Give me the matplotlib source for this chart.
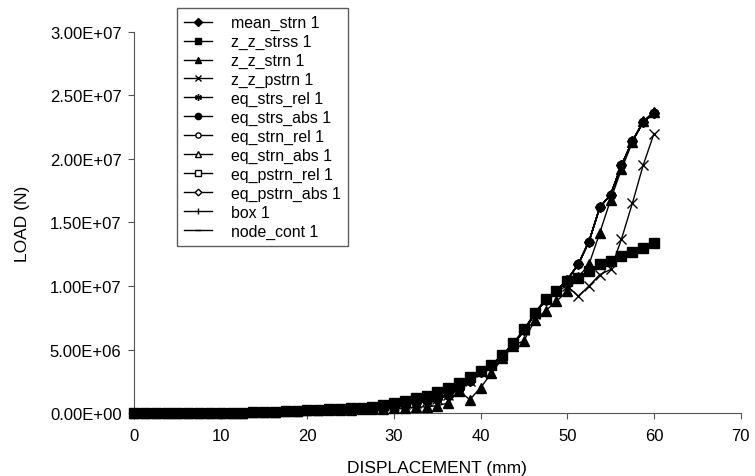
import matplotlib
matplotlib.use('Agg')
import matplotlib.pyplot as plt
from matplotlib.ticker import FuncFormatter

plt.rcParams['font.family'] = ['Liberation Sans', 'DejaVu Sans']

# displacement (mm)
disp = [0, 1.25, 2.5, 3.75, 5, 6.25, 7.5, 8.75, 10, 11.25, 12.5, 13.75, 15, 16.25,
        17.5, 18.75, 20, 21.25, 22.5, 23.75, 25, 26.25, 27.5, 28.75, 30, 31.25,
        32.5, 33.75, 35, 36.25, 37.5, 38.75, 40, 41.25, 42.5, 43.75, 45, 46.25,
        47.5, 48.75, 50, 51.25, 52.5, 53.75, 55, 56.25, 57.5, 58.75, 60]

# most criteria follow this curve
load_main = [0, 0, 0, 0, 0, 0, 0, 5e3, 1e4, 2e4, 4e4, 6e4, 8e4, 1e5,
             1.3e5, 1.6e5, 2e5, 2.4e5, 2.8e5, 3.2e5, 3.7e5, 4.2e5, 4.8e5, 5.4e5, 6.2e5, 7.1e5,
             8.1e5, 9.2e5, 1.07e6, 1.4e6, 1.9e6, 2.5e6, 3.2e6, 3.75e6, 4.5e6, 5.4e6, 6.5e6, 7.8e6,
             8.9e6, 9.6e6, 1.05e7, 1.17e7, 1.35e7, 1.62e7, 1.72e7, 1.95e7, 2.14e7, 2.29e7, 2.36e7]

load_zz_strss = [0, 0, 0, 0, 0, 0, 0, 5e3, 1e4, 2e4, 4e4, 6e4, 8e4, 1e5,
                 1.3e5, 1.6e5, 2e5, 2.4e5, 2.8e5, 3.2e5, 3.7e5, 4.2e5, 4.8e5, 6.5e5, 8e5, 9.7e5,
                 1.17e6, 1.37e6, 1.65e6, 1.95e6, 2.35e6, 2.8e6, 3.3e6, 3.8e6, 4.6e6, 5.5e6, 6.6e6, 7.9e6,
                 9.0e6, 9.6e6, 1.04e7, 1.06e7, 1.12e7, 1.17e7, 1.2e7, 1.24e7, 1.27e7, 1.3e7, 1.34e7]

load_zz_strn = [0, 0, 0, 0, 0, 0, 0, 5e3, 1e4, 2e4, 4e4, 6e4, 8e4, 1e5,
                1.3e5, 1.6e5, 2e5, 2.2e5, 2.4e5, 2.5e5, 2.6e5, 2.8e5, 3.1e5, 3.4e5, 3.7e5, 4.1e5,
                4.5e5, 5e5, 5.8e5, 7.9e5, 1.76e6, 1.05e6, 2.0e6, 3.15e6, 4.3e6, 5.3e6, 5.7e6, 7.3e6,
                8.05e6, 8.8e6, 9.6e6, 1.07e7, 1.17e7, 1.42e7, 1.68e7, 1.92e7, 2.13e7, 2.3e7, 2.37e7]

load_zz_pstrn = [0, 0, 0, 0, 0, 0, 0, 5e3, 1e4, 2e4, 4e4, 6e4, 8e4, 1e5,
                 1.3e5, 1.6e5, 2e5, 2.4e5, 2.8e5, 3.2e5, 3.7e5, 4.2e5, 4.8e5, 5.4e5, 6.2e5, 7.1e5,
                 8.1e5, 9.2e5, 1.07e6, 1.4e6, 1.9e6, 2.5e6, 3.2e6, 3.75e6, 4.5e6, 5.4e6, 6.5e6, 7.8e6,
                 8.9e6, 9.6e6, 1.0e7, 9.2e6, 1.0e7, 1.09e7, 1.13e7, 1.37e7, 1.65e7, 1.95e7, 2.2e7]

series = [
    ('mean_strn 1', load_main, 'D', 'k', 5),
    ('z_z_strss 1', load_zz_strss, 's', 'k', 6.5),
    ('z_z_strn 1', load_zz_strn, '^', 'k', 6.5),
    ('z_z_pstrn 1', load_zz_pstrn, 'x', 'k', 6.5),
    ('eq_strs_rel 1', load_main, (6, 2, 0), 'k', 6.5),
    ('eq_strs_abs 1', load_main, 'o', 'k', 6),
    ('eq_strn_rel 1', load_main, 'o', 'white', 5),
    ('eq_strn_abs 1', load_main, '^', 'white', 5),
    ('eq_pstrn_rel 1', load_main, 's', 'white', 5),
    ('eq_pstrn_abs 1', load_main, 'D', 'white', 4.5),
    ('box 1', load_main, '|', 'k', 6),
    ('node_cont 1', load_main, '_', 'k', 6),
]

fig = plt.figure(figsize=(7.55, 4.77), dpi=100)
ax = fig.add_axes([0.1775, 0.132, 0.8035, 0.799])

handles = []
for i, (name, vals, mk, fc, ms) in enumerate(series):
    z = 2 if fc == 'white' else 3
    if name == 'z_z_strss 1':
        z = 4
    h, = ax.plot(disp, vals, color='k', lw=1.0, marker=mk, markersize=ms,
                 markerfacecolor=fc, markeredgecolor='k', markeredgewidth=1.0,
                 label=name, clip_on=False, zorder=z)
    handles.append(h)

ax.set_xlim(0, 70)
ax.set_ylim(0, 3e7)
ax.set_xticks(range(0, 71, 10))
ax.set_yticks([0, 5e6, 1e7, 1.5e7, 2e7, 2.5e7, 3e7])
ax.yaxis.set_major_formatter(FuncFormatter(lambda v, p: f'{v:.2E}'))

for s in ['top', 'right']:
    ax.spines[s].set_visible(False)
for s in ['left', 'bottom']:
    ax.spines[s].set_color('#555555')
ax.tick_params(direction='out', length=4, color='#555555', labelsize=12)
ax.tick_params(axis='x', pad=7)
ax.tick_params(axis='y', pad=5)

ax.set_xlabel('DISPLACEMENT (mm)', fontsize=12.5, labelpad=12)
ax.set_ylabel('LOAD (N)', fontsize=12.5, labelpad=14)

leg = fig.legend(handles=handles, loc='upper left', bbox_to_anchor=(0.2345, 0.981),
                 fontsize=11.4, frameon=True, fancybox=False, edgecolor='#333333',
                 handlelength=1.75, labelspacing=0.24, borderpad=0.45, handletextpad=1.2,
                 borderaxespad=0, markerscale=0.75)
leg.get_frame().set_linewidth(1.0)

fig.savefig('out.png', dpi=100)
